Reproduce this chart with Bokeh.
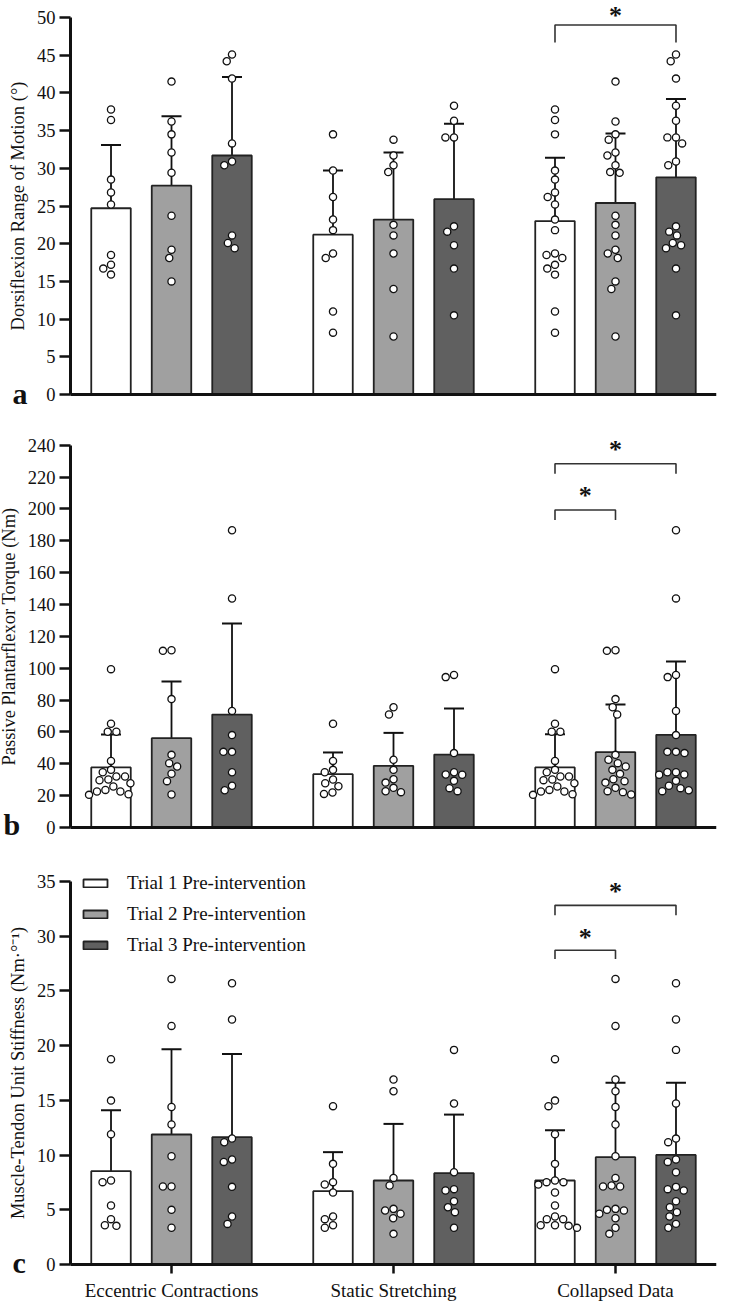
from bokeh.plotting import figure
from bokeh.layouts import column
from bokeh.models import (Range1d, FixedTicker, SingleIntervalTicker, ColumnDataSource,
                          Whisker, TeeHead, Legend, LegendItem)
from bokeh.core.properties import value
from bokeh.embed import file_html
from bokeh.resources import INLINE

# ---------------- data ----------------
groups = ["Eccentric Contractions", "Static Stretching", "Collapsed Data"]
trials = ["Trial 1 Pre-intervention", "Trial 2 Pre-intervention", "Trial 3 Pre-intervention"]

# Panel a: Dorsiflexion range of motion (deg)
rom_ecc_t1 = [37.8, 36.4, 28.5, 26.8, 25.2, 18.5, 17.2, 16.7, 15.9]
rom_ecc_t2 = [41.5, 36.2, 34.5, 32.1, 29.4, 23.7, 19.2, 18.1, 15.0]
rom_ecc_t3 = [45.1, 44.2, 41.9, 33.3, 30.9, 30.4, 21.1, 20.1, 19.4]
rom_ss_t1 = [34.5, 29.7, 26.2, 23.2, 21.8, 18.7, 18.1, 11.0, 8.2]
rom_ss_t2 = [33.8, 31.7, 30.4, 29.5, 22.5, 21.1, 18.7, 14.0, 7.7]
rom_ss_t3 = [38.3, 36.3, 34.1, 34.1, 22.3, 21.6, 19.8, 16.7, 10.5]
rom_mean = [24.7, 27.7, 31.7, 21.2, 23.2, 25.9, 23.0, 25.4, 28.8]
rom_sd = [8.4, 9.2, 10.4, 8.5, 8.9, 10.0, 8.4, 9.2, 10.4]

# Panel b: Passive plantarflexor torque (Nm)
tq_ecc_t1 = [99.4, 65.1, 60.1, 60.1, 41.8, 36.2, 34.7, 32.0, 32.0,
             30.1, 29.7, 27.8, 25.7, 23.6, 22.6, 22.6, 20.9, 20.5]
tq_ecc_t2 = [111.3, 110.9, 80.6, 45.6, 40.4, 38.3, 33.7, 29.1, 20.7]
tq_ecc_t3 = [186.6, 143.8, 73.2, 58.0, 47.5, 47.5, 34.7, 26.2, 23.4]
tq_ss_t1 = [65.1, 41.8, 36.2, 34.7, 30.1, 27.8, 25.9, 22.0, 21.1]
tq_ss_t2 = [75.5, 70.9, 42.5, 36.2, 30.3, 28.2, 24.9, 22.8, 22.2]
tq_ss_t3 = [95.8, 94.4, 46.7, 34.7, 33.3, 33.1, 29.3, 24.7, 22.8]
tq_coll_t1 = [99.4, 65.1, 60.1, 60.1, 41.8, 36.2, 34.7, 32.0, 32.0,
              30.1, 29.7, 27.8, 25.7, 23.6, 22.6, 22.6, 20.9, 20.5]
tq_mean = [37.7, 56.1, 70.9, 33.5, 38.7, 45.8, 37.7, 47.3, 58.2]
tq_sd = [20.7, 35.6, 57.2, 13.6, 20.7, 28.9, 20.8, 29.9, 46.0]

# Panel c: Muscle-tendon unit stiffness (Nm/deg)
st_ecc_t1 = [18.75, 14.97, 11.90, 7.67, 7.52, 5.39, 4.14, 3.59, 3.53]
st_ecc_t2 = [26.08, 21.79, 14.39, 12.78, 9.89, 7.12, 7.12, 4.99, 3.35]
st_ecc_t3 = [25.68, 22.37, 11.50, 11.17, 9.59, 9.37, 7.09, 4.38, 3.71]
st_ss_t1 = [14.46, 9.19, 7.52, 7.30, 6.57, 4.38, 4.14, 3.59, 3.35]
st_ss_t2 = [16.89, 15.82, 7.91, 7.21, 5.08, 4.93, 4.63, 4.23, 2.80]
st_ss_t3 = [19.60, 14.70, 8.43, 6.88, 6.76, 5.78, 5.23, 4.78, 3.35]
st_mean = [8.52, 11.87, 11.63, 6.70, 7.67, 8.34, 7.67, 9.80, 10.01]
st_sd = [5.57, 7.79, 7.60, 3.56, 5.17, 5.35, 4.59, 6.79, 6.58]

# significance brackets: (trial_from, trial_to, bracket_y, drop_y, star_y) in Collapsed Data
sig_a = [(0, 2, 49.0, 46.7, 50.8)]
sig_b = [(0, 2, 228.3, 222.0, 239.8), (0, 1, 199.3, 193.0, 211.0)]
sig_c = [(0, 2, 32.8, 31.9, 34.5), (0, 1, 28.7, 27.9, 30.3)]

# ---------------- style / layout ----------------
FONT = "Liberation Serif"
bar_colors = ["#ffffff", "#a0a0a0", "#606060"]
X_PX = 222.0                 # pixels per x unit (distance between group centres)
BAR_STEP = 60.5 / X_PX       # spacing between bars within a group
BAR_W = 39.5 / X_PX
AXIS_PX = 70                 # pixel column of the y axis line
X0 = -0.455                  # data x at the y axis line
XSTART = X0 - AXIS_PX / X_PX
XEND = 2.455


def swarm(vals, ypx, md=8.6):
    """beeswarm offsets (in x data units) so markers don't overlap"""
    order = sorted(range(len(vals)), key=lambda i: -vals[i])
    placed = []
    out = [0.0] * len(vals)
    for i in order:
        y = vals[i] * ypx
        cands = [0.0]
        for (px, py) in placed:
            dy = abs(py - y)
            if dy < md:
                dx = (md * md - dy * dy) ** 0.5
                cands += [px - dx, px + dx]
        cands.sort(key=lambda c: (abs(c), c))
        for c in cands:
            if all((c - px) ** 2 + (y - py) ** 2 >= md * md - 1e-6 for px, py in placed):
                out[i] = c
                placed.append((c, y))
                break
    return [o / X_PX for o in out]


def make_panel(points, means, sds, sig, ytitle, ymax, yint, ypx,
               height, top, zero_px, letter, letter_px, letter_dy, show_x, legend=None):
    y_end = (zero_px - top) / ypx
    y_start = -(height - zero_px) / ypx
    p = figure(width=731, height=height, x_range=Range1d(XSTART, XEND),
               y_range=Range1d(y_start, y_end), output_backend="svg", toolbar_location=None,
               min_border_left=0, min_border_right=15, min_border_top=top,
               min_border_bottom=0)
    p.outline_line_color = None
    p.grid.visible = False
    p.background_fill_color = "white"

    renderers = []
    for t in range(3):
        xs = [g + (t - 1) * BAR_STEP for g in range(3)]
        tops = [means[g * 3 + t] for g in range(3)]
        uppers = [means[g * 3 + t] + sds[g * 3 + t] for g in range(3)]
        src = ColumnDataSource(dict(x=xs, top=tops, upper=uppers))
        r = p.vbar(x="x", top="top", width=BAR_W, source=src, fill_color=bar_colors[t],
                   line_color="#222222", line_width=1.8)
        renderers.append(r)
        w = Whisker(base="x", lower="top", upper="upper", source=src, line_color="#111111",
                    line_width=1.8, lower_head=None,
                    upper_head=TeeHead(size=20, line_width=2, line_color="#111111"))
        p.add_layout(w)

    for g in range(3):
        for t in range(3):
            vals = points[g][t]
            offs = swarm(vals, ypx)
            cx = g + (t - 1) * BAR_STEP
            p.scatter([cx + o for o in offs], vals, size=7.2, fill_color="white",
                      line_color="#111111", line_width=1.3)

    for (a, b, yb, yd, ys) in sig:
        xa = 2 + (a - 1) * BAR_STEP
        xb = 2 + (b - 1) * BAR_STEP
        p.multi_line([[xa, xa, xb, xb]], [[yd, yb, yb, yd]], line_color="#333333", line_width=1.6)
        p.text([(xa + xb) / 2], [ys], text=["*"], text_font=value(FONT),
               text_font_style="bold", text_font_size="26px", text_align="center",
               text_baseline="top", y_offset=-10, text_color="#111111")

    # panel letter (bold) left of the axis, sitting on the zero line
    p.text([XSTART + letter_px / X_PX], [-letter_dy / ypx], text=[letter], text_font=value(FONT),
           text_font_style="bold", text_font_size="30px", text_align="left",
           text_baseline="alphabetic", text_color="#111111")

    ya = p.yaxis[0]
    ya.fixed_location = X0
    ya.bounds = (0, ymax)
    ya.ticker = SingleIntervalTicker(interval=yint, num_minor_ticks=0)
    ya.axis_label = ytitle
    ya.axis_label_text_font = FONT
    ya.axis_label_text_font_style = "normal"
    ya.axis_label_text_font_size = "18.5px"
    ya.axis_label_text_color = "#111111"
    ya.axis_label_standoff = 6
    ya.major_label_text_font = FONT
    ya.major_label_text_font_size = "18.5px"
    ya.major_label_text_color = "#111111"
    ya.major_label_standoff = 4
    ya.axis_line_width = 3
    ya.axis_line_color = "#111111"
    ya.major_tick_line_width = 2.5
    ya.major_tick_line_color = "#111111"
    ya.major_tick_out = 11
    ya.major_tick_in = 0
    ya.minor_tick_line_color = None

    xa_ = p.xaxis[0]
    xa_.fixed_location = 0
    xa_.bounds = (X0, XEND)
    xa_.axis_line_width = 3
    xa_.axis_line_color = "#111111"
    xa_.minor_tick_line_color = None
    if show_x:
        xa_.ticker = FixedTicker(ticks=[0, 1, 2])
        xa_.major_label_overrides = {0: groups[0], 1: groups[1], 2: groups[2]}
        xa_.major_label_text_font = FONT
        xa_.major_label_text_font_size = "19px"
        xa_.major_label_text_color = "#111111"
        xa_.major_label_standoff = 6
        xa_.major_tick_out = 9
        xa_.major_tick_in = 0
        xa_.major_tick_line_width = 2.5
        xa_.major_tick_line_color = "#111111"
    else:
        xa_.ticker = FixedTicker(ticks=[])
        xa_.major_tick_line_color = None
        xa_.major_label_text_font_size = "0px"

    if legend is not None:
        lg = Legend(items=[LegendItem(label=trials[t], renderers=[renderers[t]]) for t in range(3)],
                    location=legend, margin=0, padding=0, spacing=9,
                    glyph_width=30, glyph_height=10, label_standoff=17,
                    label_text_font=FONT, label_text_font_size="19px",
                    label_text_color="#111111",
                    border_line_color=None, background_fill_alpha=0)
        p.add_layout(lg)
    return p


rom_points = [[rom_ecc_t1, rom_ecc_t2, rom_ecc_t3],
              [rom_ss_t1, rom_ss_t2, rom_ss_t3],
              [rom_ecc_t1 + rom_ss_t1, rom_ecc_t2 + rom_ss_t2, rom_ecc_t3 + rom_ss_t3]]
tq_points = [[tq_ecc_t1, tq_ecc_t2, tq_ecc_t3],
             [tq_ss_t1, tq_ss_t2, tq_ss_t3],
             [tq_coll_t1, tq_ecc_t2 + tq_ss_t2, tq_ecc_t3 + tq_ss_t3]]
st_points = [[st_ecc_t1, st_ecc_t2, st_ecc_t3],
             [st_ss_t1, st_ss_t2, st_ss_t3],
             [st_ecc_t1 + st_ss_t1, st_ecc_t2 + st_ss_t2, st_ecc_t3 + st_ss_t3]]

pa = make_panel(rom_points, rom_mean, rom_sd, sig_a, "Dorsiflexion Range of Motion (°)",
                50, 5, 7.54, 420, 0, 394, "a", 12, -1, False)
pb = make_panel(tq_points, tq_mean, tq_sd, sig_b, "Passive Plantarflexor Torque (Nm)",
                240, 20, 1.593, 431, 12, 407, "b", 3, -3, False)
pc = make_panel(st_points, st_mean, st_sd, sig_c, "Muscle-Tendon Unit Stiffness (Nm·°⁻¹)",
                35, 5, 10.95, 450, 18, 413, "c", 12, -2, True, legend=(80, 345))

layout = column(pa, pb, pc, spacing=0)
open("out.html", "w").write(file_html(layout, INLINE))
